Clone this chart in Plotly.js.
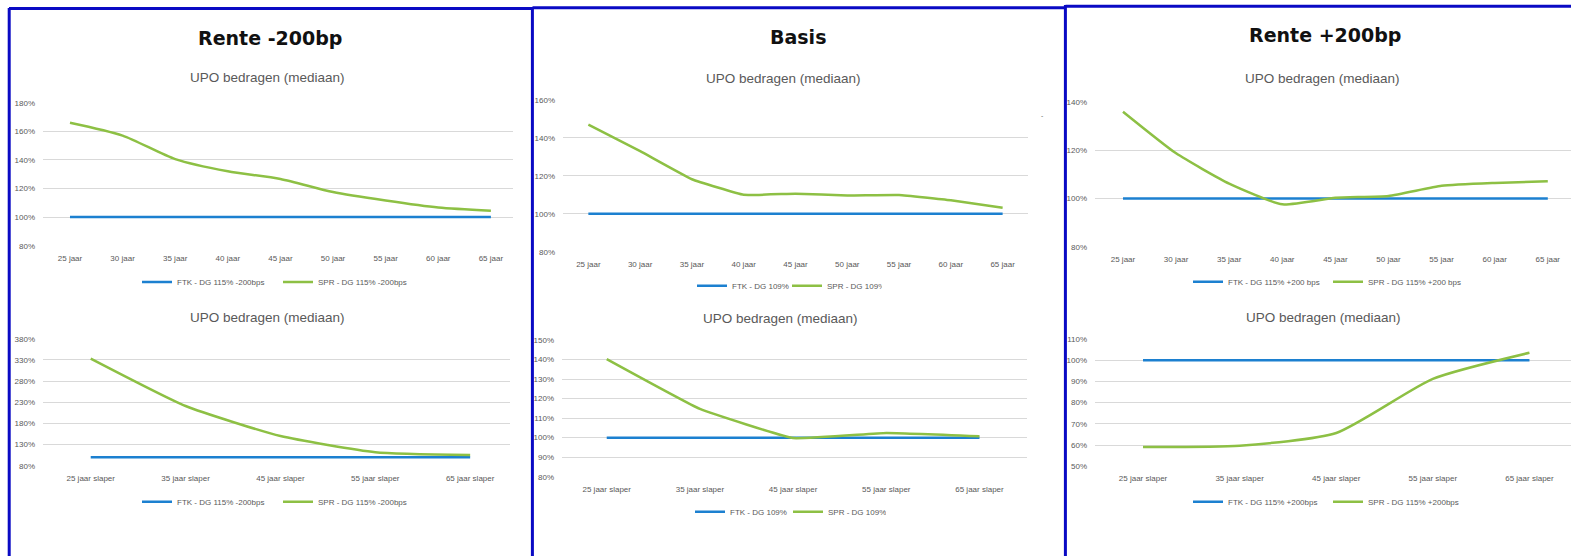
<!DOCTYPE html>
<html>
<head>
<meta charset="utf-8">
<script src="https://cdn.plot.ly/plotly-3.0.1.min.js"></script>
<style>html,body{margin:0;padding:0;background:#fff;}#chart{width:1571px;height:556px;}</style>
</head>
<body>
<div id="chart"></div>
<script>
// ---- Data ----
const panelTitles = ['Rente -200bp', 'Basis', 'Rente +200bp'];
const subTitle = 'UPO bedragen (mediaan)';
const catsJaar = ['25 jaar','30 jaar','35 jaar','40 jaar','45 jaar','50 jaar','55 jaar','60 jaar','65 jaar'];
const catsSlaper = ['25 jaar slaper','35 jaar slaper','45 jaar slaper','55 jaar slaper','65 jaar slaper'];

const ftkMin200Jaar = [100,100,100,100,100,100,100,100,100];
const sprMin200Jaar = [166,157,140.5,132,126.7,117.5,111.6,106.7,104.5];
const ftkMin200Slaper = [100,100,100,100,100];
const sprMin200Slaper = [333,221,150,112,105];

const ftkBasisJaar = [100,100,100,100,100,100,100,100,100];
const sprBasisJaar = [147,133,118.2,110,110.6,109.7,109.9,107.1,103.2];
const ftkBasisSlaper = [100,100,100,100,100];
const sprBasisSlaper = [140.2,114.7,99.8,102.4,100.7];

const ftkPlus200Jaar = [100,100,100,100,100,100,100,100,100];
const sprPlus200Jaar = [136.1,118.8,106.2,97.6,100.3,101.1,105.3,106.5,107.2];
const ftkPlus200Slaper = [100,100,100,100,100];
const sprPlus200Slaper = [59.1,59.7,65.7,91.2,103.5];

const legendNames = [
  ['FTK - DG 115% -200bps','SPR - DG 115% -200bps'],
  ['FTK - DG 115% -200bps','SPR - DG 115% -200bps'],
  ['FTK - DG 109%','SPR - DG 109%'],
  ['FTK - DG 109%','SPR - DG 109%'],
  ['FTK - DG 115% +200 bps','SPR - DG 115% +200 bps'],
  ['FTK - DG 115% +200bps','SPR - DG 115% +200bps']
];

// ---- Layout helpers ----
const W = 1571, H = 556;
const px = v => v / W;
const py = v => 1 - v / H;
const BLUE = '#1C80D0', GREEN = '#8DC044', GREY = '#595959', GRID = '#d9d9d9';
const tickFont = {family: 'Liberation Sans, Arial, sans-serif', size: 8, color: GREY};

const subs = [
  {cats: catsJaar, ftk: ftkMin200Jaar, spr: sprMin200Jaar, box:[43,513,102.7,245.7], xr:[-0.513,8.42], yr:[80,180], dt:20, shape:'spline', sm:0.7, title:[267,77], leg:[142,283,282]},
  {cats: catsSlaper, ftk: ftkMin200Slaper, spr: sprMin200Slaper, box:[43,510,338.7,465.7], xr:[-0.503,4.42], yr:[80,380], dt:50, shape:'spline', sm:0.5, title:[267,317], leg:[142,283,501.7]},
  {cats: catsJaar, ftk: ftkBasisJaar, spr: sprBasisJaar, box:[563,1028,100,251.7], xr:[-0.49,8.49], yr:[80,160], dt:20, shape:'spline', sm:0.3, title:[783,78], leg:[697,792,285.7]},
  {cats: catsSlaper, ftk: ftkBasisSlaper, spr: sprBasisSlaper, box:[562,1027,340,476.7], xr:[-0.48,4.51], yr:[80,150], dt:10, shape:'spline', sm:0.3, title:[780,318], leg:[695,793,511.7]},
  {cats: catsJaar, ftk: ftkPlus200Jaar, spr: sprPlus200Jaar, box:[1095,1571,102.3,246.7], xr:[-0.527,8.437], yr:[80,140], dt:20, shape:'spline', sm:0.5, title:[1322,78], leg:[1193,1333,281.7]},
  {cats: catsSlaper, ftk: ftkPlus200Slaper, spr: sprPlus200Slaper, box:[1095,1571,339,466.3], xr:[-0.497,4.43], yr:[50,110], dt:10, shape:'spline', sm:0.6, title:[1323,317], leg:[1193,1333,501.7]}
];

const data = [];
const layout = {
  width: W, height: H,
  margin: {l:0, r:0, t:0, b:0},
  paper_bgcolor: '#ffffff', plot_bgcolor: '#ffffff',
  showlegend: true,
  annotations: [], shapes: []
};

subs.forEach((s, i) => {
  const n = i + 1;
  const xa = n === 1 ? 'xaxis' : 'xaxis' + n;
  const ya = n === 1 ? 'yaxis' : 'yaxis' + n;
  const xr = n === 1 ? 'x' : 'x' + n;
  const yr = n === 1 ? 'y' : 'y' + n;
  const lg = n === 1 ? 'legend' : 'legend' + n;
  layout[xa] = {
    domain: [px(s.box[0]), px(s.box[1])], anchor: yr, type: 'category',
    range: s.xr, showgrid: false, zeroline: false, showline: false, ticks: '',
    tickfont: tickFont, ticklabelstandoff: 6, fixedrange: true
  };
  layout[ya] = {
    domain: [py(s.box[3]), py(s.box[2])], anchor: xr,
    range: s.yr, tickmode: 'linear', tick0: s.yr[0], dtick: s.dt, ticksuffix: '%',
    showgrid: true, gridcolor: GRID, gridwidth: 1, zeroline: false, showline: false, ticks: '',
    tickfont: tickFont, ticklabelstandoff: 7, fixedrange: true
  };
  data.push({x: s.cats, y: s.ftk, xaxis: xr, yaxis: yr, type: 'scatter', mode: 'lines',
    name: legendNames[i][0], legend: lg, line: {color: BLUE, width: 2.5}});
  data.push({x: s.cats, y: s.spr, xaxis: xr, yaxis: yr, type: 'scatter', mode: 'lines',
    name: legendNames[i][1], legend: lg, line: {color: GREEN, width: 2.5, shape: s.shape, smoothing: s.sm}});
  layout[lg] = {
    x: px(s.leg[0] - 5), y: py(s.leg[2]), xanchor: 'left', yanchor: 'middle',
    orientation: 'h', font: {family: 'Liberation Sans, Arial, sans-serif', size: 8, color: GREY},
    bgcolor: 'rgba(0,0,0,0)', borderwidth: 0,
    entrywidth: s.leg[1] - s.leg[0] - 45, entrywidthmode: 'pixels', itemwidth: 30
  };
  layout.annotations.push({
    text: subTitle, x: px(s.title[0]), y: py(s.title[1]), xref: 'paper', yref: 'paper',
    xanchor: 'center', yanchor: 'middle', showarrow: false,
    font: {family: 'Liberation Sans, Arial, sans-serif', size: 13.5, color: GREY}
  });
});

// panel titles
const panelTitlePos = [[270,38],[798,37],[1325,35]];
panelTitles.forEach((t, i) => {
  layout.annotations.push({
    text: '<b>' + t + '</b>', x: px(panelTitlePos[i][0]), y: py(panelTitlePos[i][1]),
    xref: 'paper', yref: 'paper', xanchor: 'center', yanchor: 'middle', showarrow: false,
    font: {family: 'DejaVu Sans, sans-serif', size: 19, color: '#111111'}
  });
});
// small stray mark
layout.annotations.push({
  text: '-', x: px(1042), y: py(109), xref: 'paper', yref: 'paper', showarrow: false,
  font: {size: 7, color: GREY}
});

// panel borders
const BC = '#0a0ac4';
const borders = [
  [9, 8.6, 532.5, 8.6], [532.5, 7.8, 1065.5, 7.8], [1065.5, 6.2, 1571, 6.2],
  [9.2, 8, 9.2, 556], [532.4, 7, 532.4, 556], [1065.4, 5, 1065.4, 556]
];
borders.forEach(b => layout.shapes.push({
  type: 'line', xref: 'paper', yref: 'paper', layer: 'above',
  x0: px(b[0]), y0: py(b[1]), x1: px(b[2]), y1: py(b[3]),
  line: {color: BC, width: 3}
}));

Plotly.newPlot('chart', data, layout, {staticPlot: true, displayModeBar: false});
</script>
</body>
</html>
